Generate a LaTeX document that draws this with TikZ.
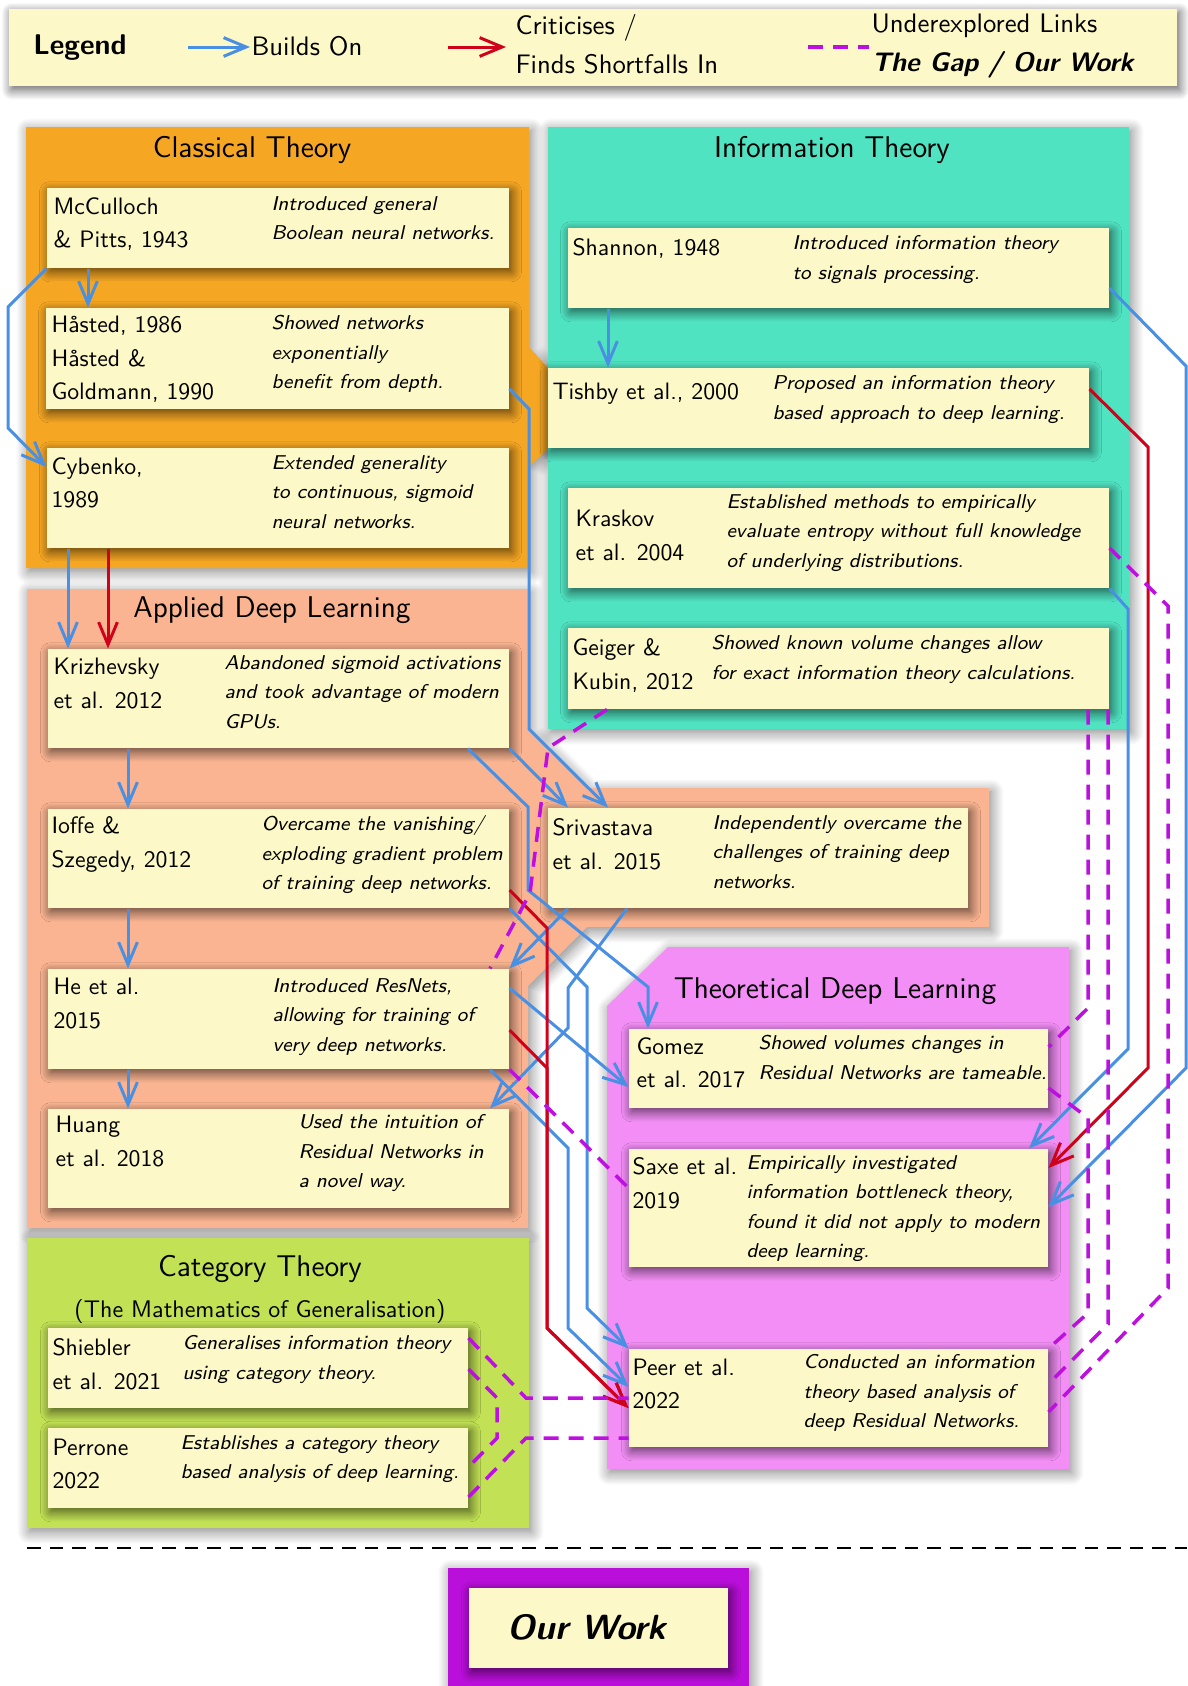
\documentclass[tikz,border=0pt]{standalone}
\usepackage{xcolor}
\usepackage{tikz}
\usetikzlibrary{arrows.meta,fit,shadows.blur}
\renewcommand{\familydefault}{\sfdefault}

\definecolor{paperyellow}{RGB}{252,248,199}
\definecolor{classorange}{RGB}{245,166,35}
\definecolor{infoteal}{RGB}{80,227,194}
\definecolor{appliedsalmon}{RGB}{250,180,145}
\definecolor{theorypink}{RGB}{242,142,245}
\definecolor{catgreen}{RGB}{194,225,84}
\definecolor{buildsblue}{RGB}{74,144,226}
\definecolor{critred}{RGB}{208,2,27}
\definecolor{gappurple}{RGB}{189,16,224}
\definecolor{ourpurple}{RGB}{186,14,218}

\begin{document}
\begin{tikzpicture}[x=0.4pt,y=-0.4pt]
        % Define styles
        \tikzset{
            grpbg/.style={blur shadow={shadow blur radius=5pt, shadow blur steps=14, shadow xshift=1pt, shadow yshift=-1.5pt, shadow opacity=50}},
            paper/.style={rectangle, fill=paperyellow, inner sep=0pt, blur shadow={shadow blur radius=4pt, shadow blur steps=14, shadow xshift=1pt, shadow yshift=-1.5pt, shadow opacity=65}},
            who/.style={anchor=north west, inner sep=0pt, align=left, font=\fontsize{9.5}{13.4}\selectfont},
            what/.style={anchor=north west, inner sep=0pt, align=left, font=\fontsize{8}{11.8}\selectfont\itshape},
            grptitle/.style={inner sep=0pt, font=\fontsize{12}{14}\selectfont},
            legendtext/.style={anchor=west, inner sep=0pt, align=left, font=\fontsize{10.7}{15.6}\selectfont},
            builds/.style={draw=buildsblue, line width=1.2pt, -{Straight Barb[length=9pt,width=7.5pt]}},
            crit/.style={draw=critred, line width=1.2pt, -{Straight Barb[length=9pt,width=7.5pt]}},
            gaplink/.style={draw=gappurple, line width=1.4pt, dash pattern=on 6pt off 4pt}
        }
        \useasboundingbox (0,0) rectangle (1187,1686);

        % Group backgrounds
        \fill[classorange, grpbg] (26,127) -- (529,127) -- (529,347) -- (547,367) -- (547,450) -- (529,467) -- (529,568) -- (26,568) -- cycle;
        \fill[infoteal, grpbg] (548,127) rectangle (1129,729);
        \fill[appliedsalmon, grpbg] (27,589) -- (528,589) -- (528,728) -- (588,788) -- (989,788) -- (989,927) -- (587,927) -- (528,986) -- (528,1228) -- (27,1228) -- cycle;
        \fill[theorypink, grpbg] (607,1006) -- (668,947) -- (1069,947) -- (1069,1469) -- (607,1469) -- cycle;
        \fill[catgreen, grpbg] (27,1238) rectangle (529,1528);

        \node[grptitle] (classical-title) at (252,150) {Classical Theory};
        \node[grptitle] (info-title) at (832,150) {Information Theory};
        \node[grptitle] (applied-title) at (272,610) {Applied Deep Learning};
        \node[grptitle] (theory-title) at (835,991) {Theoretical Deep Learning};
        \node[grptitle] (category-title) at (260,1269) {Category Theory};
        \node[inner sep=0pt, font=\fontsize{9.6}{12}\selectfont] (category-subtitle) at (260,1311) {(The Mathematics of Generalisation)};

        % Legend
        \node[paper, fit={(9,9) (1177,86)}] (legend) {};
        \node[inner sep=0pt, font=\bfseries\fontsize{11.4}{13}\selectfont] (legend-title) at (80,48) {Legend};
        \coordinate (builds-from) at (188,47);
        \coordinate (builds-to) at (250,47);
        \node[legendtext] (builds-label) at (251,46) {Builds On};
        \coordinate (crit-from) at (448,47);
        \coordinate (crit-to) at (506,47);
        \node[legendtext] (crit-label) at (515,44) {Criticises /\\Finds Shortfalls In};
        \coordinate (gap-from) at (808,47);
        \coordinate (gap-to) at (869,47);
        \node[legendtext] (gap-label) at (871,46) {Underexplored Links\\{\bfseries\itshape The Gap / Our Work}};

        % Nodes: classical theory
        \node[paper, fit={(47,188) (509,268)}] (mcculloch) {};
        \node[who] (mcculloch-who) at (53,197) {McCulloch\\\& Pitts, 1943};
        \node[what] (mcculloch-what) at (271,196) {Introduced general\\Boolean neural networks.};
        \node[paper, fit={(46,308) (509,409)}] (hasted) {};
        \node[who] (hasted-who) at (51,316) {Håsted, 1986\\Håsted \&\\Goldmann, 1990};
        \node[what] (hasted-what) at (271,315) {Showed networks\\exponentially\\benefit from depth.};
        \node[paper, fit={(47,448) (509,548)}] (cybenko) {};
        \node[who] (cybenko-who) at (51,457) {Cybenko,\\1989};
        \node[what] (cybenko-what) at (271,455) {Extended generality\\to continuous, sigmoid\\neural networks.};

        % Nodes: information theory
        \node[paper, fit={(568,228) (1109,308)}] (shannon) {};
        \node[who] (shannon-who) at (572,238) {Shannon, 1948};
        \node[what] (shannon-what) at (792,235) {Introduced information theory\\to signals processing.};
        \node[paper, fit={(548,368) (1089,448)}] (tishby) {};
        \node[who] (tishby-who) at (552,383) {Tishby et al., 2000};
        \node[what] (tishby-what) at (772,375) {Proposed an information theory\\based approach to deep learning.};
        \node[paper, fit={(568,488) (1109,588)}] (kraskov) {};
        \node[who] (kraskov-who) at (575,510) {Kraskov\\et al. 2004};
        \node[what] (kraskov-what) at (726,494) {Established methods to empirically\\evaluate entropy without full knowledge\\of underlying distributions.};
        \node[paper, fit={(568,628) (1109,709)}] (geiger) {};
        \node[who] (geiger-who) at (572,638) {Geiger \&\\Kubin, 2012};
        \node[what] (geiger-what) at (711,635) {Showed known volume changes allow\\for exact information theory calculations.};

        % Nodes: applied deep learning
        \node[paper, fit={(48,649) (509,748)}] (krizhevsky) {};
        \node[who] (krizhevsky-who) at (53,658) {Krizhevsky\\et al. 2012};
        \node[what] (krizhevsky-what) at (224,655) {Abandoned sigmoid activations\\and took advantage of modern\\GPUs.};
        \node[paper, fit={(48,809) (509,908)}] (ioffe) {};
        \node[who] (ioffe-who) at (51,816) {Ioffe \&\\Szegedy, 2012};
        \node[what] (ioffe-what) at (261,815) {Overcame the vanishing/\\exploding gradient problem\\of training deep networks.};
        \node[paper, fit={(48,969) (509,1069)}] (he) {};
        \node[who] (he-who) at (53,978) {He et al.\\2015};
        \node[what] (he-what) at (272,978) {Introduced ResNets,\\allowing for training of\\very deep networks.};
        \node[paper, fit={(48,1109) (509,1208)}] (huang) {};
        \node[who] (huang-who) at (55,1116) {Huang\\et al. 2018};
        \node[what] (huang-what) at (298,1114) {Used the intuition of\\Residual Networks in\\a novel way.};
        \node[paper, fit={(548,808) (968,908)}] (srivastava) {};
        \node[who] (srivastava-who) at (552,818) {Srivastava\\et al. 2015};
        \node[what] (srivastava-what) at (712,815) {Independently overcame the\\challenges of training deep\\networks.};

        % Nodes: theoretical deep learning
        \node[paper, fit={(629,1029) (1048,1108)}] (gomez) {};
        \node[who] (gomez-who) at (636,1037) {Gomez\\et al. 2017};
        \node[what] (gomez-what) at (758,1035) {Showed volumes changes in\\Residual Networks are tameable.};
        \node[paper, fit={(629,1149) (1048,1267)}] (saxe) {};
        \node[who] (saxe-who) at (632,1157) {Saxe et al.\\2019};
        \node[what] (saxe-what) at (746,1155) {Empirically investigated\\information bottleneck theory,\\found it did not apply to modern\\deep learning.};
        \node[paper, fit={(629,1349) (1048,1447)}] (peer) {};
        \node[who] (peer-who) at (632,1358) {Peer et al.\\2022};
        \node[what] (peer-what) at (803,1354) {Conducted an information\\theory based analysis of\\deep Residual Networks.};

        % Nodes: category theory
        \node[paper, fit={(48,1328) (468,1408)}] (shiebler) {};
        \node[who] (shiebler-who) at (52,1338) {Shiebler\\et al. 2021};
        \node[what] (shiebler-what) at (182,1335) {Generalises information theory\\using category theory.};
        \node[paper, fit={(48,1428) (468,1508)}] (perrone) {};
        \node[who] (perrone-who) at (52,1438) {Perrone\\2022};
        \node[what] (perrone-what) at (180,1435) {Establishes a category theory\\based analysis of deep learning.};

        % Our work
        \draw[line width=0.8pt, dash pattern=on 5.4pt off 3.6pt] (27,1548) -- (1187,1548);
        \fill[ourpurple, grpbg] (448,1568) rectangle (749,1700);
        \node[paper, fit={(469,1588) (728,1668)}] (ourwork) {};
        \node[inner sep=0pt, font=\bfseries\itshape\fontsize{14}{16}\selectfont] (ourwork-label) at (587,1627) {Our Work};

        % Arrows
        \draw[builds] (builds-from) -- (builds-to);
        \draw[crit] (crit-from) -- (crit-to);
        \draw[gaplink] (gap-from) -- (gap-to);

        \draw[builds] (88,0 |- mcculloch.south) -- (88,0 |- hasted.north);
        \draw[builds] (mcculloch.south west) -- (8,307) -- (8,428) -- (0,467 -| cybenko.west);
        \draw[builds] (68,0 |- cybenko.south) -- (68,0 |- krizhevsky.north);
        \draw[crit] (108,0 |- cybenko.south) -- (108,0 |- krizhevsky.north);
        \draw[builds] (0,389 -| hasted.east) -- (529,409) -- (529,729) -- (608,0 |- srivastava.north);

        \draw[builds] (128,0 |- krizhevsky.south) -- (128,0 |- ioffe.north);
        \draw[builds] (128,0 |- ioffe.south) -- (128,0 |- he.north);
        \draw[builds] (128,0 |- he.south) -- (128,0 |- huang.north);
        \draw[builds] (krizhevsky.south east) -- (568,0 |- srivastava.north);
        \draw[builds] (468,0 |- krizhevsky.south) -- (528,807) -- (528,890) -- (648,987) -- (648,0 |- gomez.north);
        \draw[builds] (568,0 |- srivastava.south) -- (he.north east);
        \draw[builds] (627,0 |- srivastava.south) -- (568,988) -- (568,1028) -- (490,0 |- huang.north);
        \draw[builds] (ioffe.south east) -- (587,987) -- (587,1308) -- (peer.north west);
        \draw[builds] (0,988 -| he.east) -- (0,1087 -| gomez.west);
        \draw[builds] (490,0 |- he.south) -- (568,1148) -- (568,1328) -- (0,1387 -| peer.west);
        \draw[crit] (0,890 -| ioffe.east) -- (547,928) -- (547,1328) -- (0,1408 -| peer.west);
        \draw[crit] (0,1030 -| he.east) -- (547,1068) -- (547,1328) -- (0,1408 -| peer.west);

        \draw[builds] (608,0 |- shannon.south) -- (608,0 |- tishby.north);
        \draw[builds] (0,288 -| shannon.east) -- (1186,366) -- (1186,1068) -- (0,1207 -| saxe.east);
        \draw[builds] (kraskov.south east) -- (1128,609) -- (1128,1049) -- (1029,0 |- saxe.north);
        \draw[crit] (0,389 -| tishby.east) -- (1148,447) -- (1148,1068) -- (0,1168 -| saxe.east);

        \draw[gaplink] (607,0 |- geiger.south) -- (548,748) -- (530,893) -- (490,0 |- he.north);
        \draw[gaplink] (1088,0 |- geiger.south) -- (1088,1008) -- (0,1047 -| gomez.east);
        \draw[gaplink] (1108,0 |- geiger.south) -- (1108,1324) -- (0,1384 -| peer.east);
        \draw[gaplink] (0,548 -| kraskov.east) -- (1168,606) -- (1168,1288) -- (0,1412 -| peer.east);
        \draw[gaplink] (0,1088 -| gomez.east) -- (1088,1118) -- (1088,1313) -- (peer.north east);
        \draw[gaplink] (he.south east) -- (0,1188 -| saxe.west);
        \draw[gaplink] (0,1338 -| shiebler.east) -- (526,1398) -- (0,1398 -| peer.west);
        \draw[gaplink] (0,1369 -| shiebler.east) -- (497,1398) -- (497,1438) -- (0,1467 -| perrone.east);
        \draw[gaplink] (0,1497 -| perrone.east) -- (526,1438) -- (0,1438 -| peer.west);
\end{tikzpicture}
\end{document}
